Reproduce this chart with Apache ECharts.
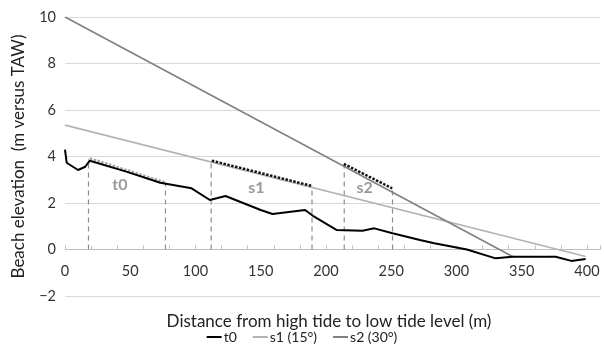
<!DOCTYPE html>
<html>
<head>
<meta charset="utf-8">
<script src="https://cdn.jsdelivr.net/npm/echarts@6/dist/echarts.min.js"></script>
<style>html,body{margin:0;padding:0;background:#fff}#c{width:604px;height:351px}</style>
</head>
<body>
<div id="c"></div>
<script>
// Beach profile t0 (distance m, elevation m TAW)
var t0Profile = [[0,4.3],[1.3,3.73],[10,3.42],[15.5,3.56],[19,3.82],[47,3.35],[73,2.87],[97,2.63],[111,2.13],[123,2.3],[150,1.7],[159,1.53],[184,1.7],[190,1.45],[208,0.84],[228,0.81],[237,0.91],[251,0.7],[272,0.41],[283,0.27],[308,0],[330,-0.38],[343,-0.31],[376,-0.31],[388,-0.49],[399,-0.41]];
// Design slopes
var s1Line = [[0,5.35],[399,-0.3]];
var s2Line = [[0,10],[344,-0.33]];
// Dotted highlighted segments
var t0Segment = [[19,3.92],[77,2.88]];
var s1Segment = [[112.5,3.82],[189.3,2.73]];
var s2Segment = [[213.7,3.68],[250.8,2.63]];
// Vertical dashed markers: [distance, top elevation]
var verticals = [[18,3.9],[77,2.87],[112,3.82],[189.3,2.73],[214,3.68],[251,2.63]];
// Zone labels
var zoneLabels = [{name:'t0', value:[42,2.77]},{name:'s1', value:[146.6,2.65]},{name:'s2', value:[229.6,2.65]}];
// Axis settings
var xTicks = {min:0, max:410, interval:50};
var xMinorTicks = {min:-9, max:401, interval:20};
var yTicks = {min:-2, max:10, interval:2};
var legendNames = ['t0','s1 (15°)','s2 (30°)'];
var xTitle = 'Distance from high tide to low tide level (m)';
var yTitle = 'Beach elevation  (m versus TAW)';

var FONT = 'Lato';
var GRID = {left:65, right:4, top:17, bottom:55};
// x axis drawn where y = 0 (offset upward from the grid bottom, derived from the y scale)
var plotH = 351 - GRID.top - GRID.bottom;
var zeroOffset = -plotH * (0 - yTicks.min) / (yTicks.max - yTicks.min);

var chart = echarts.init(document.getElementById('c'), null, {renderer:'canvas'});

var series = [];
verticals.forEach(function(v){
  series.push({type:'line', symbol:'none', silent:true, z:1,
    data:[[v[0],0],[v[0],v[1]]],
    lineStyle:{color:'#8c8c8c', width:1.2, type:[5,4]}});
});
series.push({name:'s1 (15°)', type:'line', symbol:'none', data:s1Line, z:2,
  lineStyle:{color:'#b3b3b3', width:1.6}, itemStyle:{color:'#b3b3b3'}});
series.push({name:'s2 (30°)', type:'line', symbol:'none', data:s2Line, z:2,
  lineStyle:{color:'#808080', width:1.6}, itemStyle:{color:'#808080'}});
series.push({type:'line', symbol:'none', data:t0Segment, z:3,
  lineStyle:{color:'#a6a6a6', width:2.5, type:[2.5,1.5]}});
series.push({type:'line', symbol:'none', data:s1Segment, z:3,
  lineStyle:{color:'#111', width:2.5, type:[2.5,1.5]}});
series.push({type:'line', symbol:'none', data:s2Segment, z:3,
  lineStyle:{color:'#111', width:2.5, type:[2.5,1.5]}});
series.push({name:'t0', type:'line', symbol:'none', data:t0Profile, z:4,
  lineStyle:{color:'#000', width:2}, itemStyle:{color:'#000'}});
series.push({type:'scatter', symbolSize:0, data:zoneLabels, z:5,
  label:{show:true, position:'inside', formatter:'{b}', color:'#7f7f7f', fontSize:16, fontFamily:FONT, fontWeight:'bold'}});

chart.setOption({
  animation:false,
  grid:{left:GRID.left, right:GRID.right, top:GRID.top, bottom:GRID.bottom, containLabel:false, outerBoundsMode:'none'},
  legend:{data:legendNames, bottom:2, left:'center', icon:'rect', itemWidth:15, itemHeight:2, itemGap:16,
    textStyle:{fontFamily:FONT, fontSize:14, color:'#222', padding:[0,0,0,-3]}},
  graphic:[{
    type:'text', x:329, y:322,
    style:{text:xTitle, fontFamily:FONT, fontSize:17, fill:'#222', textAlign:'center', textVerticalAlign:'middle'}
  }],
  xAxis:[{
    type:'value', min:xTicks.min, max:xTicks.max, interval:xTicks.interval,
    position:'bottom', offset:zeroOffset,
    axisLine:{onZero:false, lineStyle:{color:'#bfbfbf', width:1}},
    axisTick:{show:false},
    axisLabel:{fontFamily:FONT, fontSize:14.5, color:'#333', margin:14, showMaxLabel:false},
    splitLine:{show:false}
  },{
    type:'value', min:xMinorTicks.min, max:xMinorTicks.max, interval:xMinorTicks.interval,
    position:'bottom', offset:zeroOffset,
    axisLine:{show:false, onZero:false},
    axisTick:{show:true, inside:true, length:4, lineStyle:{color:'#bfbfbf'}},
    axisLabel:{show:false}, splitLine:{show:false}
  }],
  yAxis:{
    type:'value', min:yTicks.min, max:yTicks.max, interval:yTicks.interval,
    name:yTitle, nameLocation:'middle', nameGap:38,
    nameTextStyle:{fontFamily:FONT, fontSize:17, color:'#222'},
    axisLine:{show:false}, axisTick:{show:false},
    axisLabel:{fontFamily:FONT, fontSize:14.5, color:'#333', margin:9,
      formatter:function(v){return String(v).replace('-', '\u2212');}},
    splitLine:{lineStyle:{color:'#d9d9d9', width:1}}
  },
  series:series
});
</script>
</body>
</html>
